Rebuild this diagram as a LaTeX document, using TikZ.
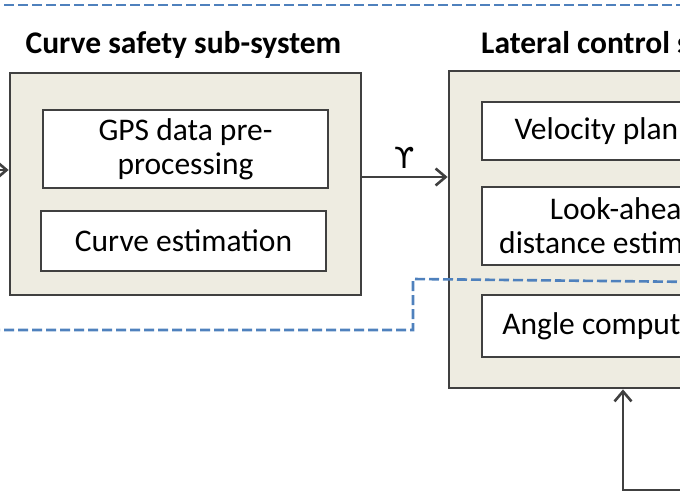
\documentclass[tikz,border=0pt]{standalone}
\usepackage{fontspec}
\setmainfont{Carlito}
\newfontfamily\upsfont{DejaVu Sans}
\usepackage{tikz}
\usetikzlibrary{arrows.meta}

\definecolor{boxgray}{HTML}{404040}
\definecolor{boxfill}{HTML}{EEECE1}
\definecolor{sepblue}{HTML}{4F81BD}

\begin{document}
\begin{tikzpicture}[x=1pt, y=-1pt,
    subsystem/.style={draw=boxgray, line width=2.8pt, fill=boxfill, inner sep=0pt},
    block/.style={draw=boxgray, line width=1.8pt, fill=white, inner sep=0pt,
      align=center, font=\fontsize{31.5}{34}\selectfont},
    title/.style={font=\fontsize{31.5}{34}\selectfont\bfseries, inner sep=0pt},
    arr/.style={draw=boxgray, line width=2.8pt, -{Straight Barb[length=10pt, width=17pt, line width=2.6pt]}},
    sep/.style={draw=sepblue, line width=2.6pt, dash pattern=on 10pt off 4pt}]

  \clip (0,0) rectangle (680,500);
  \useasboundingbox (0,0) rectangle (680,500);

  % curve safety sub-system
  \node[title] (ctitle) at (183.5,45) {Curve safety sub-system};
  \node[subsystem, minimum width=351pt, minimum height=222pt] (curvebox) at (185.5,184) {};
  \node[block, minimum width=285pt, minimum height=78pt] (gps) at (185.5,149) {GPS data pre-\\processing};
  \node[block, minimum width=285pt, minimum height=60pt] (curveest) at (183.5,241) {Curve estimation};

  % lateral control sub-system
  \node[title, anchor=west] (ltitle) at (481,45) {Lateral control sub-system};
  \node[subsystem, minimum width=350pt, minimum height=317pt] (latbox) at (624,229.5) {};
  \node[block, minimum width=284pt, minimum height=58pt] (velocity) at (624,131) {Velocity planning};
  \node[block, minimum width=284pt, minimum height=78pt] (lookahead) at (624,226) {Look-ahead\\distance estimation};
  \node[block, minimum width=284pt, minimum height=62pt] (angle) at (624,326) {Angle computation};

  % connectors
  \coordinate (gpsin) at (-10,170);
  \draw[arr] (gpsin) -- (gpsin -| curvebox.west);
  \draw[arr] ([yshift=7pt]curvebox.east) -- ([yshift=7pt]curvebox.east -| latbox.west)
    node[midway, above=4pt, font=\upsfont\fontsize{29}{30}\selectfont] (ups) {ϒ};
  \coordinate (fbin) at (700,490);
  \coordinate (fbturn) at (623,490);
  \draw[arr] (fbin) -- (fbturn) -- (fbturn |- latbox.south);

  % separators
  \coordinate (septopl) at (-10,5);
  \coordinate (septopr) at (700,5);
  \draw[sep] (septopl) -- (septopr);
  \coordinate (sepl) at (-10,330);
  \coordinate (sepstep) at (413,279);
  \coordinate (sepr) at (700,282);
  \draw[sep] (sepl) -| (sepstep) -- (sepr);
\end{tikzpicture}
\end{document}
